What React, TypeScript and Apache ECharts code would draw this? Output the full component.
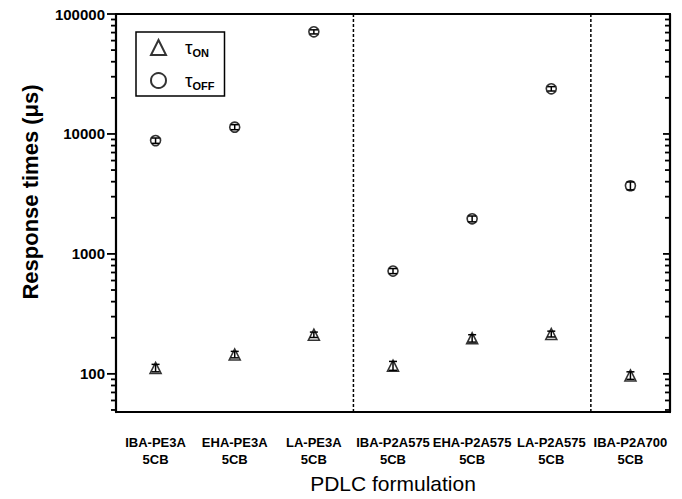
import React, { useEffect, useRef } from "react";
import * as echarts from "echarts";

const categories = [
  "IBA-PE3A\n5CB",
  "EHA-PE3A\n5CB",
  "LA-PE3A\n5CB",
  "IBA-P2A575\n5CB",
  "EHA-P2A575\n5CB",
  "LA-P2A575\n5CB",
  "IBA-P2A700\n5CB",
];
const tauOn = [112, 145, 212, 117, 198, 215, 97];
const tauOnErr = [8, 9, 11, 10, 14, 12, 7];
const tauOff = [8800, 11400, 71000, 720, 1960, 23800, 3700];
const tauOffErr = [450, 550, 2800, 35, 110, 1000, 280];
const dividers = [2.5, 5.5];
const yMin = 48;
const yMax = 100000;
const majorTicks = [100, 1000, 10000, 100000];
const minorTicks: number[] = [];
for (let k = 1; k <= 4; k++) {
  for (let m = 2; m <= 9; m++) {
    const v = m * Math.pow(10, k);
    if (v >= yMin && v <= yMax) minorTicks.push(v);
  }
}

const FONT = "'Liberation Sans', Arial, Helvetica, sans-serif";

const yTitle = {
  id: "yTitle",
  type: "text",
  x: 30,
  y: 192,
  rotation: Math.PI / 2,
  style: {
    text: "Response times (μs)",
    font: `bold 22px ${FONT}`,
    fill: "#000",
    align: "center",
    verticalAlign: "middle",
  },
};

export default function App() {
  const ref = useRef<HTMLDivElement>(null);
  useEffect(() => {
    if (!ref.current) return;
    const chart = echarts.init(ref.current, null, { renderer: "svg" });

    const errRender = (errs: number[], vals: number[]) => (params: any, api: any) => {
      const i = params.dataIndex;
      const lo = api.coord([i, vals[i] - errs[i]]);
      const hi = api.coord([i, vals[i] + errs[i]]);
      const cw = 4;
      return {
        type: "group",
        children: [
          { type: "line", shape: { x1: lo[0], y1: lo[1], x2: hi[0], y2: hi[1] }, style: { stroke: "#000", lineWidth: 1.5 } },
          { type: "line", shape: { x1: lo[0] - cw, y1: lo[1], x2: lo[0] + cw, y2: lo[1] }, style: { stroke: "#000", lineWidth: 1.5 } },
          { type: "line", shape: { x1: hi[0] - cw, y1: hi[1], x2: hi[0] + cw, y2: hi[1] }, style: { stroke: "#000", lineWidth: 1.5 } },
        ],
      };
    };

    const option: any = {
      animation: false,
      backgroundColor: "#fff",
      textStyle: { fontFamily: FONT },
      grid: { left: 116, right: 12, top: 14, bottom: 78, containLabel: false },
      legend: {
        left: 136,
        top: 32,
        orient: "vertical",
        data: ["tauOn", "tauOff"],
        borderColor: "#000",
        borderWidth: 1.5,
        borderRadius: 0,
        padding: [6, 10, 5, 14],
        itemGap: 13,
        itemWidth: 15,
        itemHeight: 15,
        formatter: (name: string) =>
          name === "tauOn" ? "{t|τ}{s|ON}" : "{t|τ}{s|OFF}",
        textStyle: {
          color: "#000",
          rich: {
            t: { fontSize: 19, fontFamily: FONT, padding: [0, 0, 0, 14], color: "#000" },
            s: { fontSize: 11, fontWeight: "bold", fontFamily: FONT, padding: [10, 0, 0, 0], color: "#000" },
          },
        },
      },
      xAxis: [
        {
          type: "category",
          data: categories,
          position: "bottom",
          name: "PDLC formulation",
          nameLocation: "middle",
          nameGap: 60,
          nameTextStyle: { fontSize: 21, color: "#000", fontFamily: FONT },
          axisLine: { onZero: false, lineStyle: { color: "#000", width: 2.2 } },
          axisTick: { alignWithLabel: true, length: 8, lineStyle: { color: "#000", width: 1.5 } },
          axisLabel: { interval: 0, color: "#000", fontSize: 13, fontWeight: "bold", lineHeight: 17, margin: 22, fontFamily: FONT },
          splitLine: { show: false },
        },
        {
          type: "category",
          data: categories,
          position: "top",
          axisLine: { onZero: false, lineStyle: { color: "#000", width: 2 } },
          axisTick: { alignWithLabel: true, inside: true, length: 8, lineStyle: { color: "#000", width: 1.5 } },
          axisLabel: { show: false },
          splitLine: { show: false },
        },
        {
          type: "value",
          min: -0.5,
          max: 6.5,
          show: false,
        },
      ],
      yAxis: [
        {
          type: "log",
          logBase: 10,
          min: yMin,
          max: yMax,
          position: "left",
          axisLine: { show: true, onZero: false, lineStyle: { color: "#000", width: 2.2 } },
          axisTick: { show: false },
          axisLabel: {
            color: "#000",
            fontSize: 15,
            fontWeight: "bold",
            margin: 11,
            fontFamily: FONT,
            formatter: (v: number) => {
              const l = Math.log10(v);
              return Math.abs(l - Math.round(l)) < 1e-6 ? String(Math.round(v)) : "";
            },
          },
          splitLine: { show: false },
        },
        {
          type: "log",
          logBase: 10,
          min: yMin,
          max: yMax,
          position: "right",
          axisLine: { show: true, onZero: false, lineStyle: { color: "#000", width: 2.2 } },
          axisTick: { show: false },
          axisLabel: { show: false },
          splitLine: { show: false },
        },
      ],
      graphic: [yTitle],
      series: [
        {
          name: "dividers",
          type: "custom",
          xAxisIndex: 2,
          yAxisIndex: 0,
          silent: true,
          data: dividers.map((d) => [d, yMin]),
          renderItem: (params: any, api: any) => {
            const x = dividers[params.dataIndex];
            const a = api.coord([x, yMin]);
            const b = api.coord([x, yMax]);
            return {
              type: "line",
              shape: { x1: a[0], y1: a[1], x2: b[0], y2: b[1] },
              style: { stroke: "#000", lineWidth: 1.5, lineDash: [3, 2] },
            };
          },
        },
        {
          name: "errOn",
          type: "custom",
          xAxisIndex: 0,
          yAxisIndex: 0,
          silent: true,
          data: tauOn.map((v, i) => [i, v]),
          renderItem: errRender(tauOnErr, tauOn),
          z: 3,
        },
        {
          name: "errOff",
          type: "custom",
          xAxisIndex: 0,
          yAxisIndex: 0,
          silent: true,
          data: tauOff.map((v, i) => [i, v]),
          renderItem: errRender(tauOffErr, tauOff),
          z: 3,
        },
        {
          name: "tauOn",
          type: "scatter",
          xAxisIndex: 0,
          yAxisIndex: 0,
          symbol: "triangle",
          symbolSize: 11,
          data: tauOn.map((v, i) => [i, v]),
          itemStyle: { color: "rgba(255,255,255,0)", borderColor: "#000", borderWidth: 1.6 },
          z: 4,
        },
        {
          name: "tauOff",
          type: "scatter",
          xAxisIndex: 0,
          yAxisIndex: 0,
          symbol: "circle",
          symbolSize: 10,
          data: tauOff.map((v, i) => [i, v]),
          itemStyle: { color: "rgba(255,255,255,0)", borderColor: "#000", borderWidth: 1.6 },
          z: 4,
        },
      ],
    };
    chart.setOption(option);

    // Y-axis major/minor ticks on both spines, positioned through the chart's own scales
    const xLeft = chart.convertToPixel({ xAxisIndex: 2 } as any, -0.5) as number;
    const xRight = chart.convertToPixel({ xAxisIndex: 2 } as any, 6.5) as number;
    const tickEls: any[] = [];
    const addTick = (v: number, major: boolean) => {
      const y = chart.convertToPixel({ yAxisIndex: 0 } as any, v) as number;
      const lenL = major ? 9 : 5;
      const lenR = major ? 7 : 5;
      tickEls.push({
        type: "line",
        z: 100,
        shape: { x1: xLeft - lenL, y1: y, x2: xLeft, y2: y },
        style: { stroke: "#000", lineWidth: 1.8 },
      });
      tickEls.push({
        type: "line",
        z: 100,
        shape: { x1: xRight - lenR, y1: y, x2: xRight, y2: y },
        style: { stroke: "#000", lineWidth: 1.8 },
      });
    };
    majorTicks.forEach((v) => addTick(v, true));
    minorTicks.forEach((v) => addTick(v, false));
    chart.setOption({ graphic: [yTitle, ...tickEls] });

    return () => chart.dispose();
  }, []);
  return <div ref={ref} style={{ width: 682, height: 499, position: "absolute", left: 0, top: 0 }} />;
}
